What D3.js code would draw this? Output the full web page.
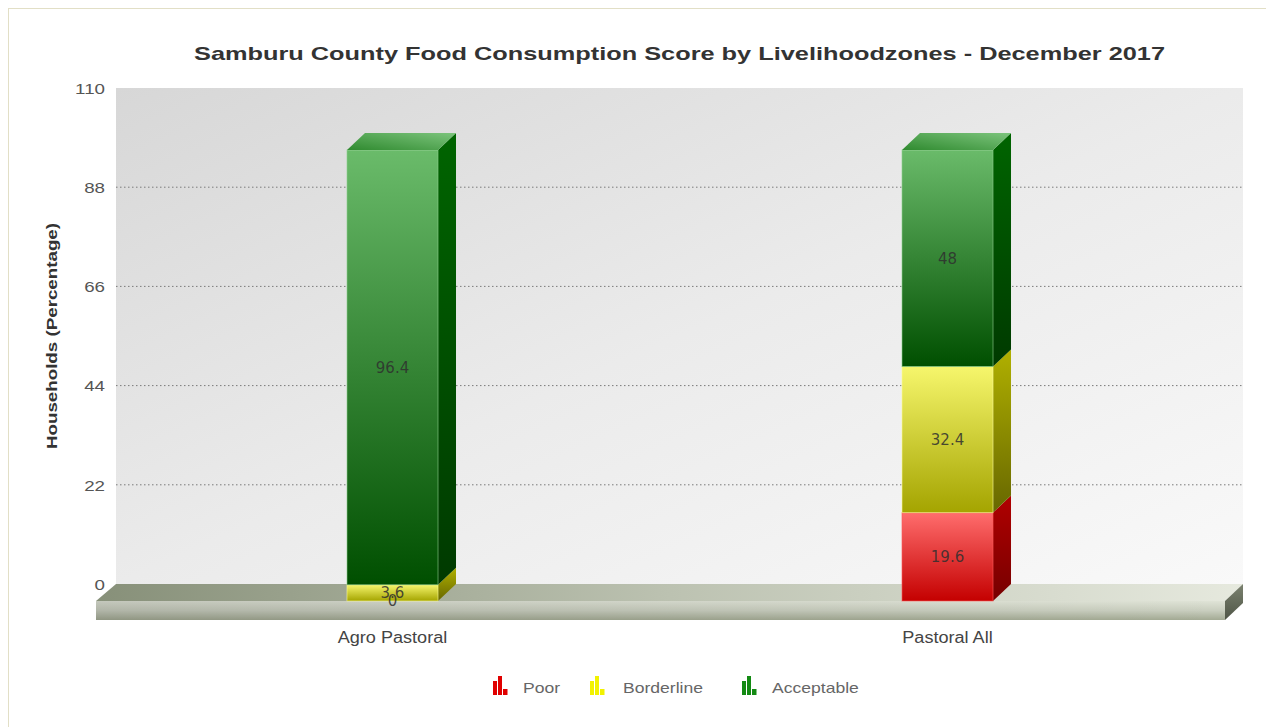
<!DOCTYPE html>
<html><head><meta charset="utf-8">
<script src="https://cdn.jsdelivr.net/npm/d3@7"></script>
<style>
html,body{margin:0;padding:0;background:#fff;}
svg{display:block;font-family:"Liberation Sans",Arial,sans-serif;}
</style></head>
<body>
<svg id="chart" width="1266" height="727"></svg>
<script>
// ---- data ----
const title = "Samburu County Food Consumption Score by Livelihoodzones - December 2017";
const yAxisTitle = "Households (Percentage)";
const categories = ["Agro Pastoral", "Pastoral All"];
const seriesNames = ["Poor", "Borderline", "Acceptable"];
const poor = [0, 19.6];
const borderline = [3.6, 32.4];
const acceptable = [96.4, 48];
const yTicks = [0, 22, 44, 66, 88, 110];

// ---- styles ----
const pal = {
  Poor:       {front:["#ff6d6d","#c40000"], side:["#b00000","#760000"], top:["#d02020","#ff8080"], edge:"#ff5a5a", icon:"#e00000"},
  Borderline: {front:["#f6f66c","#a4a400"], side:["#b0b000","#676700"], top:["#c8c820","#fafa90"], edge:"#fbfb9a", icon:"#f2f200"},
  Acceptable: {front:["#6abb6a","#004f00"], side:["#006400","#003a00"], top:["#2f8a2f","#7cc47c"], edge:"#8fd08f", icon:"#138a13"}
};
const W = 1266, H = 727;
const D = 18, DY = 17;          // 3D depth offsets
const wallL = 116, wallR = 1243;
const svg = d3.select("#chart");
const defs = svg.append("defs");

function lin(id, stops, x1, y1, x2, y2){
  const g = defs.append("linearGradient").attr("id", id)
    .attr("x1", x1).attr("y1", y1).attr("x2", x2).attr("y2", y2);
  stops.forEach((c,i)=> g.append("stop").attr("offset", (i/(stops.length-1)*100)+"%").attr("stop-color", c));
}
lin("wallG", ["#d7d7d7","#ebebeb","#f9f9f9"], "0%","0%","100%","100%");
lin("floorTop", ["#879079","#bcc2b1","#e6e9de"], "0%","0%","100%","0%");
lin("floorFront", ["#dfe3d6","#c9cebf","#a3aa94"], "0%","0%","0%","100%");
lin("floorFrontH", ["rgba(0,0,0,0.12)","rgba(0,0,0,0)"], "0%","0%","100%","0%");
lin("floorSide", ["#7b8270","#4f5546"], "0%","0%","0%","100%");
seriesNames.forEach(s=>{
  lin("front_"+s, pal[s].front, "0%","0%","0%","100%");
  lin("side_"+s, pal[s].side, "0%","0%","0%","100%");
  lin("top_"+s, pal[s].top, "0%","100%","100%","0%");
});

// outer frame
svg.append("rect").attr("x",8.5).attr("y",8.5).attr("width",W).attr("height",H)
  .attr("fill","none").attr("stroke","#e2dfc6");

// scales
const yBack = d3.scaleLinear().domain([0,110]).range([584, 88]);
const yFront = v => yBack(v) + DY;
const x = d3.scaleBand().domain(categories).range([115, 1225]).padding(0);
const barW = x.bandwidth() * 0.164;

// back wall
svg.append("rect").attr("x", wallL).attr("y", yBack(110)).attr("width", wallR-wallL)
  .attr("height", yBack(0)-yBack(110)).attr("fill","url(#wallG)");

// gridlines
svg.append("g").selectAll("line").data(yTicks.filter(t=>t>0 && t<110)).join("line")
  .attr("x1", wallL).attr("x2", wallR).attr("y1", d=>yBack(d)).attr("y2", d=>yBack(d))
  .attr("stroke","#7a7a7a").attr("stroke-width",1).attr("stroke-dasharray","1.5,2.5");

function stretch(sel, k){
  sel.each(function(){
    const l = this.getComputedTextLength();
    this.setAttribute("textLength", l*k);
    this.setAttribute("lengthAdjust","spacingAndGlyphs");
  });
}

// y axis labels via d3 axis
const yAxis = d3.axisLeft(yBack).tickValues(yTicks).tickSize(0).tickPadding(0);
const ga = svg.append("g").attr("transform", `translate(${wallL-11},0)`).call(yAxis);
ga.select(".domain").remove();
ga.selectAll("text").attr("font-size",15).attr("fill","#555").attr("font-family","Liberation Sans, Arial, sans-serif")
  .attr("dy","0.35em");
stretch(ga.selectAll("text"), 1.25);

// floor
const y0b = yBack(0), y0f = yFront(0), thick = 19;
const floor = svg.append("g");
floor.append("path").attr("d", `M${wallL},${y0b} L${wallR},${y0b} L${wallR-D},${y0f} L${wallL-D-2},${y0f} Z`)
  .attr("fill","url(#floorTop)");
floor.append("rect").attr("x", wallL-D-2).attr("y", y0f).attr("width", (wallR-D)-(wallL-D-2)).attr("height", thick)
  .attr("fill","url(#floorFront)");
floor.append("rect").attr("x", wallL-D-2).attr("y", y0f).attr("width", (wallR-D)-(wallL-D-2)).attr("height", thick)
  .attr("fill","url(#floorFrontH)");
floor.append("path").attr("d", `M${wallR-D},${y0f} L${wallR},${y0b} L${wallR},${y0b+thick} L${wallR-D},${y0f+thick} Z`)
  .attr("fill","url(#floorSide)");

// stacked data
const rows = categories.map((c,i)=>({cat:c, Poor:poor[i], Borderline:borderline[i], Acceptable:acceptable[i]}));
const stack = d3.stack().keys(seriesNames)(rows);

const bars = svg.append("g");
categories.forEach((c, ci)=>{
  const xl = x(c) + x.bandwidth()/2 - barW/2, xr = xl + barW;
  const g = bars.append("g");
  const segs = stack.map(s=>({key:s.key, y0:s[ci][0], y1:s[ci][1]}));
  segs.forEach(sg=>{
    const yt = yFront(sg.y1), yb = yFront(sg.y0);
    g.append("path").attr("d", `M${xr},${yb} L${xr+D},${yb-DY} L${xr+D},${yt-DY} L${xr},${yt} Z`)
      .attr("fill", `url(#side_${sg.key})`);
    g.append("rect").attr("x", xl).attr("y", yt).attr("width", barW).attr("height", Math.max(0, yb-yt))
      .attr("fill", `url(#front_${sg.key})`).attr("stroke", pal[sg.key].edge).attr("stroke-opacity",0.6).attr("stroke-width",1);
  });
  const topSeg = segs[segs.length-1];
  const yt = yFront(topSeg.y1);
  g.append("path").attr("d", `M${xl},${yt} L${xr},${yt} L${xr+D},${yt-DY} L${xl+D},${yt-DY} Z`)
    .attr("fill", `url(#top_${topSeg.key})`);
});

// value labels
const lab = svg.append("g").attr("font-family","DejaVu Sans, sans-serif").attr("font-size",15)
  .attr("fill","#2f2f2f").attr("fill-opacity",0.85).attr("text-anchor","middle");
categories.forEach((c, ci)=>{
  const cx = x(c) + x.bandwidth()/2;
  stack.forEach(s=>{
    const v = s[ci][1]-s[ci][0];
    lab.append("text").attr("x", cx).attr("y", (yFront(s[ci][0])+yFront(s[ci][1]))/2).attr("dy","0.36em")
      .text(d3.format("~g")(v));
  });
});

// category labels
const cl = svg.append("g").selectAll("text").data(categories).join("text")
  .attr("x", d=>x(d)+x.bandwidth()/2).attr("y", 643).attr("text-anchor","middle")
  .attr("font-size",16).attr("fill","#444").text(d=>d);
stretch(cl, 1.13);

// title
const tt = svg.append("text").attr("x", (wallL+wallR)/2).attr("y", 60).attr("text-anchor","middle")
  .attr("font-size",19).attr("font-weight","bold").attr("fill","#333").text(title);
stretch(tt, 1.333);

// y axis title
const yt = svg.append("text").attr("transform", `translate(57,${(yBack(0)+yBack(110))/2})rotate(-90)`)
  .attr("text-anchor","middle").attr("font-size",15).attr("font-weight","bold").attr("fill","#333").text(yAxisTitle);
stretch(yt, 1.25);

// legend
const legX = [493, 590, 742];
const leg = svg.append("g").selectAll("g").data(seriesNames).join("g")
  .attr("transform", (d,i)=>`translate(${legX[i]},676)`);
const iconBars = [[0,5,4,14],[5,0,4,19],[10,13,4.5,6]];
leg.each(function(d){
  const g = d3.select(this);
  iconBars.forEach(b=> g.append("rect").attr("x",b[0]).attr("y",b[1]).attr("width",b[2]).attr("height",b[3])
    .attr("fill", pal[d].icon));
  const t = g.append("text").attr("x", d==="Poor"?30:(d==="Borderline"?33:30)).attr("y",17)
    .attr("font-size",15).attr("fill","#666").text(d);
  stretch(t, 1.17);
});
</script>
</body></html>
